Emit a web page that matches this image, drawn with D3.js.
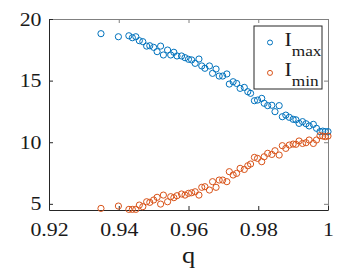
<!DOCTYPE html>
<html>
<head>
<meta charset="utf-8">
<script src="https://cdn.jsdelivr.net/npm/d3@7"></script>
<style>
  body { margin: 0; background: #fff; }
</style>
</head>
<body>
<div id="container"></div>
<script>
// values
const qValues = [0.9349, 0.9399, 0.9429, 0.9439, 0.9449, 0.9459, 0.9469, 0.9480, 0.9489, 0.9500,
  0.9510, 0.9520, 0.9528, 0.9540, 0.9549, 0.9558, 0.9567, 0.9580, 0.9590, 0.9600,
  0.9609, 0.9619, 0.9630, 0.9638, 0.9647, 0.9660, 0.9669, 0.9679, 0.9688, 0.9698,
  0.9710, 0.9717, 0.9728, 0.9738, 0.9748, 0.9760, 0.9770, 0.9778, 0.9789, 0.9798,
  0.9810, 0.9817, 0.9827, 0.9839, 0.9848, 0.9860, 0.9869, 0.9879, 0.9889, 0.9900,
  0.9908, 0.9917, 0.9927, 0.9937, 0.9946, 0.9958, 0.9967, 0.9977, 0.9985, 0.9992, 1.0000];
const iMax = [18.81, 18.56, 18.64, 18.48, 18.56, 18.24, 18.16, 17.8, 17.83, 17.7,
  17.35, 17.8, 17.08, 17.48, 17.08, 17.3, 17.0, 17.0, 16.86, 16.73,
  16.68, 16.4, 16.75, 16.19, 16.0, 16.19, 15.59, 15.94, 15.37, 15.37,
  15.54, 14.72, 14.91, 14.77, 14.37, 14.45, 14.1, 13.97, 13.37, 13.42,
  13.56, 13.16, 12.97, 13.0, 12.48, 12.97, 12.07, 12.2, 12.02, 11.86,
  11.82, 11.53, 11.67, 11.5, 11.32, 11.45, 11.13, 10.86, 10.9, 10.86, 10.86];
const iMin = [4.63, 4.82, 4.55, 4.55, 4.55, 4.9, 4.77, 5.17, 5.12, 5.31,
  5.53, 4.98, 5.71, 5.17, 5.58, 5.5, 5.66, 5.8, 5.71, 5.85,
  5.9, 5.98, 5.71, 6.34, 6.39, 6.12, 6.8, 6.34, 6.93, 6.93,
  6.8, 7.61, 7.34, 7.47, 7.88, 7.79, 8.09, 8.23, 8.77, 8.69,
  8.42, 8.82, 9.1, 9.01, 9.31, 8.96, 9.72, 9.5, 9.77, 9.85,
  9.83, 10.1, 9.9, 9.96, 10.18, 9.9, 10.18, 10.53, 10.5, 10.45, 10.5];
const xTicks = [0.92, 0.94, 0.96, 0.98, 1];
const xTickLabels = ["0.92", "0.94", "0.96", "0.98", "1"];
const yTicks = [5, 10, 15, 20];
const seriesNames = ["max", "min"];
const seriesColors = ["#0072BD", "#D95319"];

const width = 347, height = 271;
const plotLeft = 49, plotRight = 328, plotTop = 19, plotBottom = 210;
const serif = "'Liberation Serif', 'DejaVu Serif', serif";
const stretch = "scale(1.15,1)";

let svg = d3.select("#container").append("svg")
  .attr("width", width).attr("height", height)
  .attr("font-family", serif);

let x = d3.scaleLinear().domain([0.92, 1]).range([plotLeft, plotRight]);
let y = d3.scaleLinear().domain([4.5, 20]).range([plotBottom, plotTop]);

// box, top and right sides are ticks only
svg.append("g").attr("transform", `translate(0,${plotTop})`)
  .call(d3.axisTop(x).tickValues(xTicks).tickSize(-4).tickSizeOuter(0).tickFormat(""))
  .call((g) => g.selectAll("path,line").attr("stroke", "#808080"));
svg.append("g").attr("transform", `translate(${plotRight},0)`)
  .call(d3.axisRight(y).tickValues(yTicks).tickSize(-4).tickSizeOuter(0).tickFormat(""))
  .call((g) => g.selectAll("path,line").attr("stroke", "#808080"));

let xAxis = svg.append("g").attr("transform", `translate(0,${plotBottom})`)
  .call(d3.axisBottom(x).tickValues(xTicks).tickSize(-4).tickSizeOuter(0)
    .tickPadding(13).tickFormat((d, i) => xTickLabels[i]));
let yAxis = svg.append("g").attr("transform", `translate(${plotLeft},0)`)
  .call(d3.axisLeft(y).tickValues(yTicks).tickSize(-4).tickSizeOuter(0).tickPadding(6.5));

[xAxis, yAxis].forEach((g) => {
  g.attr("font-family", serif).attr("font-size", 19);
  g.selectAll("path,line").attr("stroke", "#262626");
  g.selectAll("text").attr("fill", "#1a1a1a").attr("transform", stretch);
});

// points
let series = [iMax, iMin];
series.forEach((vals, s) => {
  svg.append("g").selectAll("circle").data(qValues).enter()
    .append("circle")
    .attr("cx", (d) => x(d))
    .attr("cy", (d, i) => y(vals[i]))
    .attr("r", 3.1)
    .attr("fill", "none")
    .attr("stroke", seriesColors[s])
    .attr("stroke-width", 1);
});

// x label
svg.append("text").attr("transform", `translate(${(plotLeft + plotRight) / 2},263) ${stretch}`)
  .attr("text-anchor", "middle").attr("font-size", 23).attr("fill", "#1a1a1a").text("q");

// legend
let legend = svg.append("g");
legend.append("rect").attr("x", 254).attr("y", 26).attr("width", 68).attr("height", 63)
  .attr("fill", "#fff").attr("stroke", "#262626").attr("stroke-width", 1);
seriesNames.forEach((name, i) => {
  let row = legend.append("g").attr("transform", `translate(0,${i * 30.4})`);
  row.append("circle").attr("cx", 270).attr("cy", 42.5).attr("r", 2.5)
    .attr("fill", "none").attr("stroke", seriesColors[i]).attr("stroke-width", 1);
  let t = row.append("text").attr("transform", `translate(284.5,46) ${stretch}`)
    .attr("fill", "#1a1a1a");
  t.append("tspan").attr("font-size", 19).text("I");
  t.append("tspan").attr("font-size", 15).attr("dy", 10).text(name);
});
</script>
</body>
</html>
